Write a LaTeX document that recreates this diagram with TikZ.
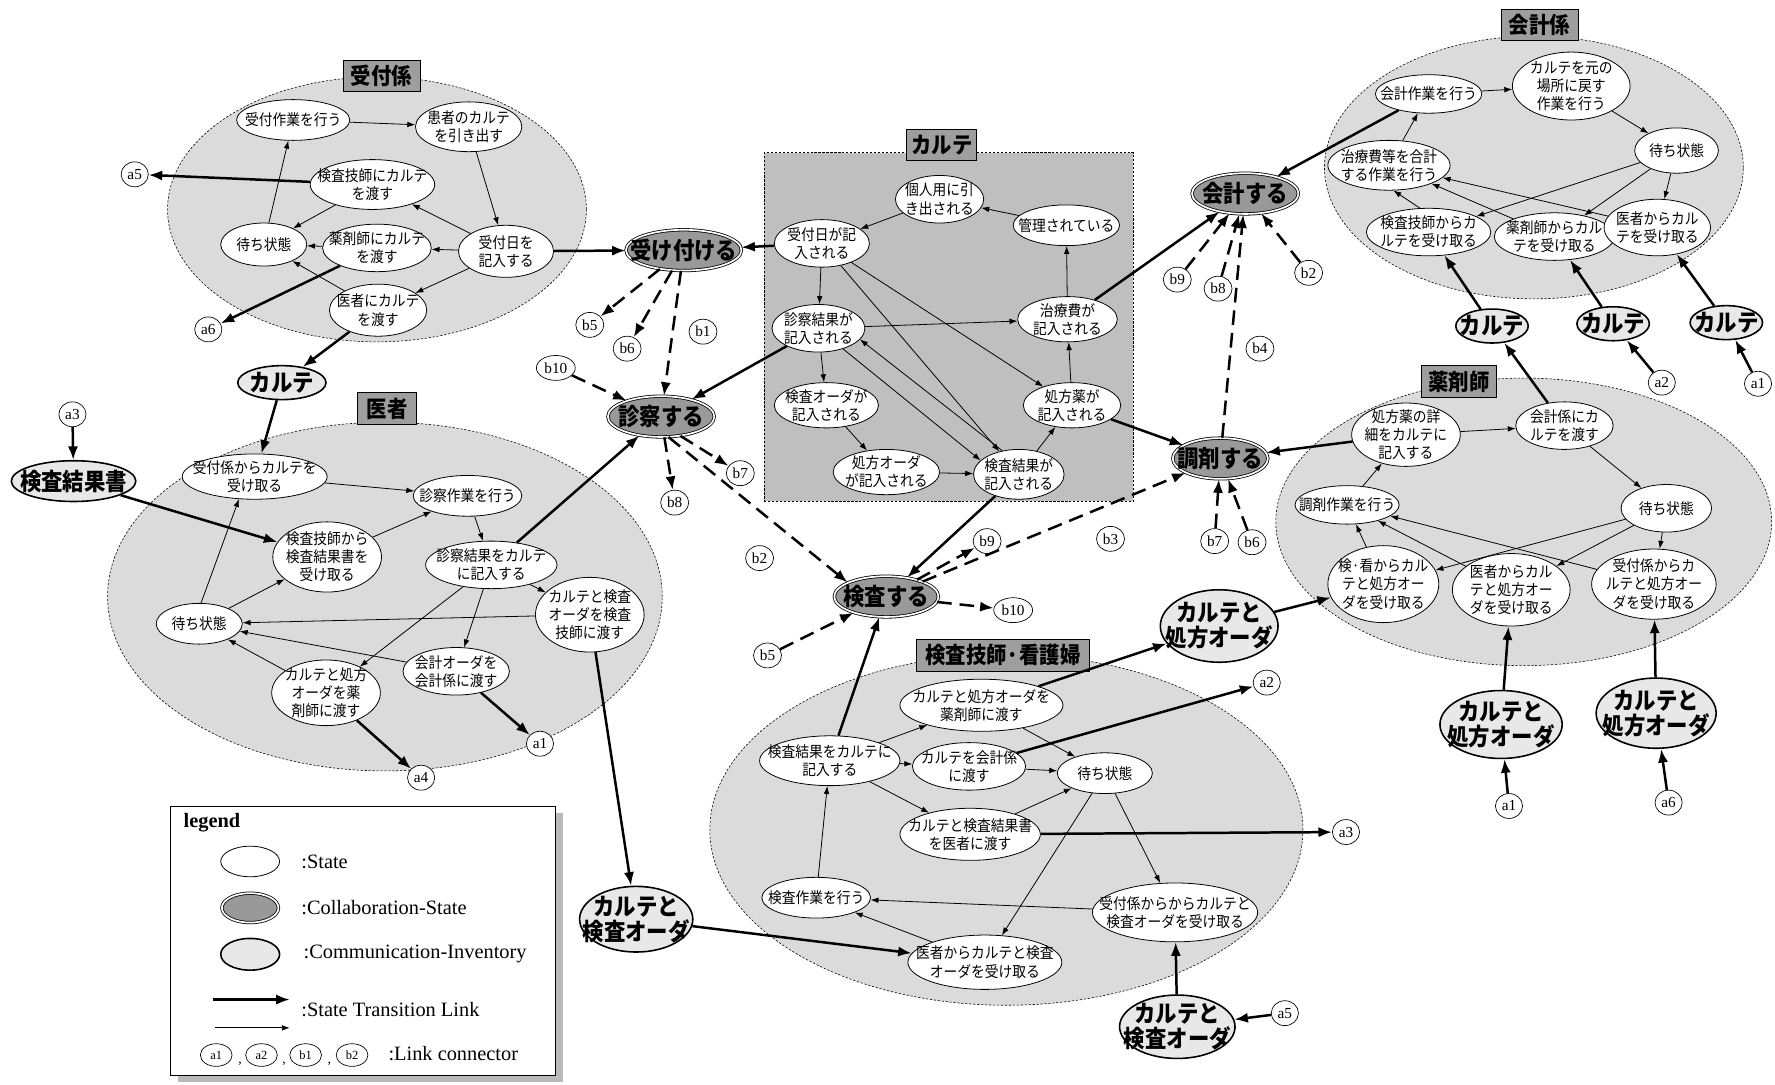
\documentclass[tikz,border=0pt]{standalone}
\usepackage{fontspec}
\setmainfont{Liberation Serif}
\newfontfamily\jp[FakeStretch=0.9]{Noto Sans CJK JP}
\usetikzlibrary{shapes.geometric,arrows.meta}

\definecolor{grpfill}{gray}{0.86}
\definecolor{cartefill}{gray}{0.75}
\definecolor{lblfill}{gray}{0.62}
\definecolor{colfill}{gray}{0.6}
\definecolor{invfill}{gray}{0.91}

\tikzset{
 grp/.style 2 args={ellipse, draw, dash pattern=on 2pt off 1.5pt, line width=0.5pt, fill=grpfill, minimum width=#1, minimum height=#2, inner sep=0},
 lbl/.style={rectangle, draw, line width=0.8pt, fill=lblfill, font=\jp\bfseries\fontsize{20}{22}\selectfont, inner xsep=4pt, inner ysep=0pt, minimum height=28},
 stt/.style 2 args={ellipse, draw, line width=0.7pt, fill=white, minimum width=#1, minimum height=#2, inner sep=0},
 sttxt/.style={align=center, font=\jp\fontsize{13.5}{16}\selectfont, inner sep=0},
 col/.style 2 args={ellipse, draw, double, double distance=1.5pt, line width=0.7pt, fill=colfill, minimum width=#1, minimum height=#2, inner sep=0},
 coltxt/.style={font=\jp\bfseries\fontsize{21}{22}\selectfont, inner sep=0},
 inv/.style 2 args={ellipse, draw, line width=1.4pt, fill=invfill, minimum width=#1, minimum height=#2, inner sep=0},
 invtxt/.style={align=center, font=\jp\bfseries\fontsize{21}{22}\selectfont, inner sep=0},
 con/.style={ellipse, draw, line width=0.6pt, fill=white, minimum width=24, minimum height=22, inner xsep=2pt, inner ysep=0pt, font=\fontsize{13.5}{14}\selectfont},
 lcon/.style={ellipse, draw, line width=0.6pt, fill=white, minimum width=28, minimum height=20, inner sep=0, font=\fontsize{11}{12}\selectfont},
 ta/.style={line width=0.7pt, -{Latex[length=7pt,width=5pt]}},
 tk/.style={line width=2.2pt, -{Latex[length=12pt,width=9pt]}},
 td/.style={tk, dash pattern=on 13pt off 7pt},
 legtxt/.style={anchor=west, font=\fontsize{18}{20}\selectfont, inner sep=0},
}

\newcommand\mkst[5]{\node[stt={#3}{#4}, label={[sttxt]center:{#5}}] (#1) at (#2) {};}
\newcommand\mkcol[5]{\node[col={#3}{#4}, label={[coltxt]center:{#5}}] (#1) at (#2) {};}
\newcommand\mkinv[5]{\node[inv={#3}{#4}, label={[invtxt]center:{#5}}] (#1) at (#2) {};}

\begin{document}
\begin{tikzpicture}[x=1pt,y=-1pt]
\useasboundingbox (0,0) rectangle (1568,958);
\fill[white] (0,0) rectangle (1568,958);

% ---------- groups ----------
\node[grp={370}{234}] (gU) at (333,185) {};
\node[grp={490}{308}] (gI) at (340,527) {};
\node[grp={370}{232}] (gK) at (1355,148) {};
\node[grp={438}{254}] (gY) at (1346,461) {};
\node[grp={524}{310}] (gT) at (889,733) {};
\node[rectangle, draw, dash pattern=on 2pt off 1.5pt, line width=0.6pt, fill=cartefill, minimum width=326, minimum height=308, inner sep=0] (gC) at (838,289) {};

\node[lbl, minimum width=68] (lU) at (337,67) {受付係};
\node[lbl, minimum width=52] (lI) at (342,361) {医者};
\node[lbl, minimum width=68] (lK) at (1360,22) {会計係};
\node[lbl, minimum width=66] (lY) at (1289,337) {薬剤師};
\node[lbl, minimum width=152] (lT) at (886,579) {検査技師·看護婦};
\node[lbl, minimum width=60] (lC) at (832,128) {カルテ};

% ---------- 受付係 ----------
\mkst{uA}{259,106}{100}{36}{受付作業を行う}
\mkst{uB}{414,112}{94}{44}{患者のカルテ\\を引き出す}
\mkst{uC}{329,163}{110}{44}{検査技師にカルテ\\を渡す}
\mkst{uW}{233,216}{76}{38}{待ち状態}
\mkst{uD}{333,219}{96}{42}{薬剤師にカルテ\\を渡す}
\mkst{uE}{447,222}{84}{46}{受付日を\\記入する}
\mkst{uF}{334,274}{86}{46}{医者にカルテ\\を渡す}

% ---------- 医者 ----------
\mkst{iA}{225,421}{128}{40}{受付係からカルテを\\受け取る}
\mkst{iB}{413,438}{96}{36}{診察作業を行う}
\mkst{iC}{289,492}{96}{62}{検査技師から\\検査結果書を\\受け取る}
\mkst{iD}{434,499}{116}{42}{診察結果をカルテ\\に記入する}
\mkst{iW}{176,551}{76}{36}{待ち状態}
\mkst{iE}{521,543}{96}{66}{カルテと検査\\オーダを検査\\技師に渡す}
\mkst{iF}{403,593}{94}{42}{会計オーダを\\会計係に渡す}
\mkst{iG}{288,612}{96}{58}{カルテと処方\\オーダを薬\\剤師に渡す}

% ---------- カルテ ----------
\mkst{cA}{830,176}{78}{42}{個人用に引\\き出される}
\mkst{cB}{942,199}{94}{36}{管理されている}
\mkst{cC}{726,215}{84}{42}{受付日が記\\入される}
\mkst{cD}{723,290}{82}{42}{診察結果が\\記入される}
\mkst{cE}{943,282}{88}{40}{治療費が\\記入される}
\mkst{cF}{730,358}{92}{40}{検査オーダが\\記入される}
\mkst{cG}{947,358}{86}{40}{処方薬が\\記入される}
\mkst{cH}{783,417}{94}{40}{処方オーダ\\が記入される}
\mkst{cI}{900,419}{80}{44}{検査結果が\\記入される}

% ---------- 会計係 ----------
\mkst{kA}{1262,83}{94}{34}{会計作業を行う}
\mkst{kB}{1388,76}{104}{60}{カルテを元の\\場所に戻す\\作業を行う}
\mkst{kC}{1227,146}{108}{44}{治療費等を合計\\する作業を行う}
\mkst{kW}{1481,133}{74}{40}{待ち状態}
\mkst{kD}{1262,205}{110}{42}{検査技師からカ\\ルテを受け取る}
\mkst{kE}{1373,209}{106}{42}{薬剤師からカル\\テを受け取る}
\mkst{kF}{1464,201}{94}{50}{医者からカル\\テを受け取る}

% ---------- 薬剤師 ----------
\mkst{yA}{1242,384}{96}{56}{処方薬の詳\\細をカルテに\\記入する}
\mkst{yB}{1382,376}{86}{42}{会計係にカ\\ルテを渡す}
\mkst{yC}{1190,446}{92}{34}{調剤作業を行う}
\mkst{yW}{1472,449}{80}{42}{待ち状態}
\mkst{yD}{1222,516}{98}{68}{検·看からカル\\テと処方オー\\ダを受け取る}
\mkst{yE}{1335,521}{104}{64}{医者からカル\\テと処方オー\\ダを受け取る}
\mkst{yF}{1461,516}{110}{62}{受付係からカ\\ルテと処方オー\\ダを受け取る}

% ---------- 検査技師・看護婦 ----------
\mkst{tA}{867,623}{144}{46}{カルテと処方オーダを\\薬剤師に渡す}
\mkst{tB}{733,672}{124}{44}{検査結果をカルテに\\記入する}
\mkst{tC}{856,677}{100}{42}{カルテを会計係\\に渡す}
\mkst{tW}{976,683}{84}{36}{待ち状態}
\mkst{tD}{857,737}{124}{46}{カルテと検査結果書\\を医者に渡す}
\mkst{tE}{721,793}{96}{36}{検査作業を行う}
\mkst{tF}{1038,806}{146}{52}{受付係からからカルテと\\検査オーダを受け取る}
\mkst{tG}{870,850}{136}{48}{医者からカルテと検査\\オーダを受け取る}

% ---------- collaboration states ----------
\mkcol{pU}{604,221}{102}{36}{受け付ける}
\mkcol{pS}{584,368}{94}{36}{診察する}
\mkcol{pK}{1100,171}{94}{36}{会計する}
\mkcol{pY}{1078,405}{84}{36}{調剤する}
\mkcol{pT}{783,527}{92}{36}{検査する}

% ---------- inventories ----------
\mkinv{vA}{249,338}{78}{30}{カルテ}
\mkinv{vB}{65,425}{110}{36}{検査結果書}
\mkinv{vC}{562,812}{100}{58}{カルテと\\検査オーダ}
\mkinv{vD}{1077,553}{104}{64}{カルテと\\処方オーダ}
\mkinv{vE}{1318,288}{64}{30}{カルテ}
\mkinv{vF}{1425,286}{64}{30}{カルテ}
\mkinv{vG}{1525,285}{64}{30}{カルテ}
\mkinv{vH}{1326,640}{108}{60}{カルテと\\処方オーダ}
\mkinv{vI}{1463,630}{106}{62}{カルテと\\処方オーダ}
\mkinv{vJ}{1040,907}{102}{56}{カルテと\\検査オーダ}

% ---------- connectors ----------
\node[con] (a5) at (119,154) {a5};
\node[con] (a6) at (184,291) {a6};
\node[con] (a3) at (64,366) {a3};
\node[con] (a1) at (477,657) {a1};
\node[con] (a4) at (372,687) {a4};
\node[con] (b5) at (521,287) {b5};
\node[con] (b6) at (554,308) {b6};
\node[con] (b1) at (621,293) {b1};
\node[con] (b10) at (491,325) {b10};
\node[con] (b7) at (654,418) {b7};
\node[con] (b8) at (596,444) {b8};
\node[con] (b2) at (671,493) {b2};
\node[con] (b9) at (872,478) {b9};
\node[con] (b3) at (981,476) {b3};
\node[con] (b10x) at (895,539) {b10};
\node[con] (b5x) at (678,579) {b5};
\node[con] (b9x) at (1040,247) {b9};
\node[con] (b8x) at (1076,255) {b8};
\node[con] (b2x) at (1156,241) {b2};
\node[con] (b4) at (1113,308) {b4};
\node[con] (b7x) at (1073,478) {b7};
\node[con] (b6x) at (1106,479) {b6};
\node[con] (a2) at (1468,338) {a2};
\node[con] (a1x) at (1553,339) {a1};
\node[con] (a2x) at (1119,603) {a2};
\node[con] (a3x) at (1189,735) {a3};
\node[con] (a5x) at (1135,895) {a5};
\node[con] (a1y) at (1333,712) {a1};
\node[con] (a6x) at (1474,709) {a6};

% ---------- edges: 受付係 ----------
\draw[ta] (uA) -- (uB);
\draw[ta] (uB) -- (uE);
\draw[ta] (uE) -- (uC);
\draw[ta] (uE) -- (uD);
\draw[ta] (uE) -- (uF);
\draw[ta] (uC) -- (uW);
\draw[ta] (uD) -- (uW);
\draw[ta] (uF) -- (uW);
\draw[ta] (uW) -- (uA);
\draw[tk] (uC) -- (a5);
\draw[tk] (uD) -- (a6);
\draw[tk] (uF) -- (vA);
\draw[tk] (uE) -- (pU);

% ---------- edges: 医者 ----------
\draw[ta] (iA) -- (iB);
\draw[ta] (iC) -- (iB);
\draw[ta] (iB) -- (iD);
\draw[ta] (iD) -- (iE);
\draw[ta] (iD) -- (iF);
\draw[ta] (iD) -- (iG);
\draw[ta] (iE) -- (iW);
\draw[ta] (iF) -- (iW);
\draw[ta] (iG) -- (iW);
\draw[ta] (iW.85) -- (iA.235);
\draw[ta] (iW) -- (iC);
\draw[tk] (vA) -- (iA);
\draw[tk] (a3) -- (vB);
\draw[tk] (vB) -- (iC);
\draw[tk] (iD) -- (pS);
\draw[tk] (iF) -- (a1);
\draw[tk] (iG) -- (a4);
\draw[tk] (iE) -- (vC);

% ---------- edges: カルテ ----------
\draw[ta] (cB) -- (cA);
\draw[ta] (cA) -- (cC);
\draw[ta] (cC) -- (cD);
\draw[ta] (cC) -- (cG);
\draw[ta] (cC) -- (cI);
\draw[ta] (cD) -- (cE);
\draw[ta] (cD) -- (cF);
\draw[ta] (cD.-40) -- (cI.160);
\draw[ta] (cI.125) -- (cD.-15);
\draw[ta] (cF) -- (cH);
\draw[ta] (cH) -- (cI);
\draw[ta] (cI) -- (cG);
\draw[ta] (cG) -- (cE);
\draw[ta] (cE) -- (cB);
\draw[tk] (cC) -- (pU);
\draw[tk] (cD) -- (pS);
\draw[tk] (cI) -- (pT);
\draw[tk] (cE) -- (pK);
\draw[tk] (cG) -- (pY);

% ---------- dashed collaboration links ----------
\draw[td] (pU) -- (b5);
\draw[td] (pU) -- (b6);
\draw[td] (pU) -- (pS);
\draw[td] (b10) -- (pS);
\draw[td] (pS.-45) -- (b7);
\draw[td] (pS) -- (b8);
\draw[td] (pS.-70) -- (pT.160);
\draw[td] (pT) -- (b9);
\draw[td] (pT) -- (b10x);
\draw[td] (b5x) -- (pT);
\draw[td] (pT) -- (pY);
\draw[td] (b9x) -- (pK);
\draw[td] (b8x) -- (pK);
\draw[td] (b2x) -- (pK);
\draw[td] (pY) -- (pK);
\draw[td] (b7x) -- (pY);
\draw[td] (b6x) -- (pY);

% ---------- edges: 会計係 ----------
\draw[ta] (kA) -- (kB);
\draw[ta] (kB) -- (kW);
\draw[ta] (kW) -- (kD);
\draw[ta] (kW) -- (kE);
\draw[ta] (kW) -- (kF);
\draw[ta] (kD.110) -- (kC.-80);
\draw[ta] (kE) -- (kC);
\draw[ta] (kF) -- (kC);
\draw[ta] (kC) -- (kA);
\draw[tk] (kA) -- (pK);
\draw[tk] (vE) -- (kD);
\draw[tk] (vF) -- (kE);
\draw[tk] (vG) -- (kF);
\draw[tk] (a2) -- (vF);
\draw[tk] (a1x) -- (vG);
\draw[tk] (yB) -- (vE);

% ---------- edges: 薬剤師 ----------
\draw[ta] (yA) -- (yB);
\draw[ta] (yB) -- (yW);
\draw[ta] (yW) -- (yD);
\draw[ta] (yW) -- (yE);
\draw[ta] (yW) -- (yF);
\draw[ta] (yD) -- (yC);
\draw[ta] (yE) -- (yC);
\draw[ta] (yF) -- (yC);
\draw[ta] (yC) -- (yA);
\draw[tk] (yA) -- (pY);
\draw[tk] (vD) -- (yD);
\draw[tk] (vH) -- (yE);
\draw[tk] (vI) -- (yF);
\draw[tk] (a1y) -- (vH);
\draw[tk] (a6x) -- (vI);

% ---------- edges: 検査技師・看護婦 ----------
\draw[ta] (tB) -- (tA);
\draw[ta] (tB) -- (tC);
\draw[ta] (tB) -- (tD);
\draw[ta] (tA) -- (tW);
\draw[ta] (tC) -- (tW);
\draw[ta] (tD) -- (tW);
\draw[ta] (tW) -- (tG);
\draw[ta] (tW) -- (tF);
\draw[ta] (tF) -- (tE);
\draw[ta] (tG) -- (tE);
\draw[ta] (tE) -- (tB);
\draw[tk] (tB) -- (pT);
\draw[tk] (tA) -- (vD);
\draw[tk] (tC) -- (a2x);
\draw[tk] (tD) -- (a3x);
\draw[tk] (vC) -- (tG);
\draw[tk] (vJ) -- (tF);
\draw[tk] (a5x) -- (vJ);

% ---------- legend ----------
\fill[gray!55] (157,718) rectangle (497,956);
\node[draw, fill=white, line width=0.8pt, minimum width=340, minimum height=238, inner sep=0] (legbox) at (321,831) {};
\node[anchor=west, font=\bfseries\fontsize{18}{20}\selectfont, inner sep=0] (legt) at (162,727) {legend};
\node[stt={52}{27}] (lgS) at (221,761) {};
\node[col={50}{26}] (lgC) at (221,802) {};
\node[inv={52}{28}] (lgI) at (221,843) {};
\node[legtxt] (lgSt) at (266,761) {:State};
\node[legtxt] (lgCt) at (266,802) {:Collaboration-State};
\node[legtxt] (lgIt) at (268,843) {:Communication-Inventory};
\coordinate (lgA1) at (188,883);
\coordinate (lgA2) at (256,883);
\draw[tk] (lgA1) -- (lgA2);
\coordinate (lgB1) at (190,908);
\coordinate (lgB2) at (256,908);
\draw[ta] (lgB1) -- (lgB2);
\node[legtxt] (lgTt) at (266,892) {:State Transition Link};
\node[lcon] (lgc1) at (191,932) {a1};
\node[lcon] (lgc2) at (231,932) {a2};
\node[lcon] (lgc3) at (270,932) {b1};
\node[lcon] (lgc4) at (311,932) {b2};
\node[font=\fontsize{12}{13}\selectfont, inner sep=0] (lgk1) at (212,940) {,};
\node[font=\fontsize{12}{13}\selectfont, inner sep=0] (lgk2) at (251,940) {,};
\node[font=\fontsize{12}{13}\selectfont, inner sep=0] (lgk3) at (291,940) {,};
\node[legtxt] (lgLt) at (343,931) {:Link connector};
\end{tikzpicture}
\end{document}
